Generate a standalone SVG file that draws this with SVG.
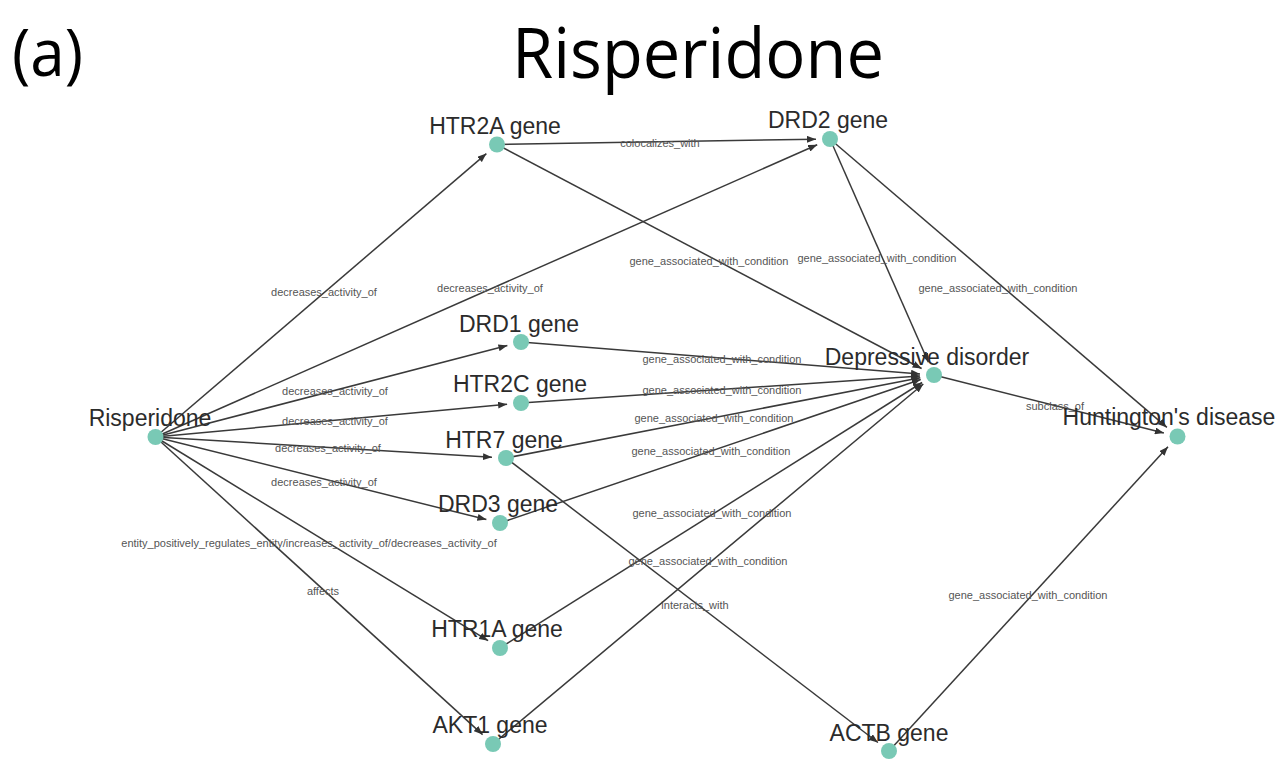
<svg xmlns="http://www.w3.org/2000/svg" width="1285" height="771" viewBox="0 0 1285 771">
<style>
.edge{stroke:#3a3a3a;stroke-width:1.5;fill:none;marker-end:url(#arr)}
.elab{font-family:"Liberation Sans",Arial,sans-serif;font-size:11px;fill:#555;text-anchor:middle}
.node circle{fill:#79c9b5}
.node text{font-family:"Liberation Sans",Arial,sans-serif;font-size:23px;fill:#2b2b2b;text-anchor:middle}
.title{font-family:"Open Sans","Noto Sans",sans-serif;fill:#000}
</style>
<defs>
<marker id="arr" markerUnits="userSpaceOnUse" markerWidth="9" markerHeight="7" refX="9" refY="3.5" orient="auto">
<path d="M0,0 L9,3.5 L0,7 z" fill="#333"/>
</marker>
</defs>
<rect width="1285" height="771" fill="#fff"/>
<text class="title" x="12" y="76" font-size="66" textLength="71" lengthAdjust="spacingAndGlyphs">(a)</text>
<text class="title" x="512" y="78" font-size="70" textLength="372" lengthAdjust="spacingAndGlyphs">Risperidone</text>
<g id="connectors">
<line class="edge" x1="155.5" y1="437" x2="486.4" y2="153.6"/>
<line class="edge" x1="155.5" y1="437" x2="817.2" y2="144.7"/>
<line class="edge" x1="155.5" y1="437" x2="507.4" y2="345.5"/>
<line class="edge" x1="155.5" y1="437" x2="507.1" y2="404.3"/>
<line class="edge" x1="155.5" y1="437" x2="492.0" y2="457.2"/>
<line class="edge" x1="155.5" y1="437" x2="486.4" y2="519.6"/>
<line class="edge" x1="155.5" y1="437" x2="488.1" y2="640.7"/>
<line class="edge" x1="155.5" y1="437" x2="482.6" y2="734.6"/>
<line class="edge" x1="497" y1="144.5" x2="816" y2="139.2"/>
<line class="edge" x1="497" y1="144.5" x2="921.6" y2="368.5"/>
<line class="edge" x1="830" y1="139" x2="928.4" y2="362.2"/>
<line class="edge" x1="830" y1="139" x2="1166.9" y2="427.4"/>
<line class="edge" x1="521" y1="342" x2="920.0" y2="373.9"/>
<line class="edge" x1="521" y1="403" x2="920.0" y2="375.9"/>
<line class="edge" x1="506" y1="458" x2="920.3" y2="377.7"/>
<line class="edge" x1="500" y1="523" x2="920.7" y2="379.5"/>
<line class="edge" x1="500" y1="648" x2="922.1" y2="382.5"/>
<line class="edge" x1="493" y1="744" x2="923.3" y2="384.0"/>
<line class="edge" x1="506" y1="458" x2="877.9" y2="742.5"/>
<line class="edge" x1="889" y1="751" x2="1168.0" y2="446.8"/>
<line class="edge" x1="934" y1="375" x2="1163.9" y2="433.1"/>
</g>
<g id="edge-labels">
<text class="elab" x="324" y="296">decreases_activity_of</text>
<text class="elab" x="490" y="292">decreases_activity_of</text>
<text class="elab" x="335" y="395">decreases_activity_of</text>
<text class="elab" x="335" y="425">decreases_activity_of</text>
<text class="elab" x="328" y="452">decreases_activity_of</text>
<text class="elab" x="324" y="486">decreases_activity_of</text>
<text class="elab" x="309" y="547">entity_positively_regulates_entity/increases_activity_of/decreases_activity_of</text>
<text class="elab" x="323" y="595">affects</text>
<text class="elab" x="660" y="147">colocalizes_with</text>
<text class="elab" x="709" y="265">gene_associated_with_condition</text>
<text class="elab" x="877" y="262">gene_associated_with_condition</text>
<text class="elab" x="998" y="292">gene_associated_with_condition</text>
<text class="elab" x="722" y="363">gene_associated_with_condition</text>
<text class="elab" x="722" y="394">gene_associated_with_condition</text>
<text class="elab" x="714" y="422">gene_associated_with_condition</text>
<text class="elab" x="711" y="455">gene_associated_with_condition</text>
<text class="elab" x="712" y="517">gene_associated_with_condition</text>
<text class="elab" x="708" y="565">gene_associated_with_condition</text>
<text class="elab" x="695" y="609">interacts_with</text>
<text class="elab" x="1028" y="599">gene_associated_with_condition</text>
<text class="elab" x="1055" y="410">subclass_of</text>
</g>
<g id="node-risperidone" class="node"><circle cx="155.5" cy="437" r="8"/><text x="150" y="426">Risperidone</text></g>
<g id="node-htr2a" class="node"><circle cx="497" cy="144.5" r="8"/><text x="495" y="134">HTR2A gene</text></g>
<g id="node-drd2" class="node"><circle cx="830" cy="139" r="8"/><text x="828" y="128">DRD2 gene</text></g>
<g id="node-drd1" class="node"><circle cx="521" cy="342" r="8"/><text x="519" y="332">DRD1 gene</text></g>
<g id="node-htr2c" class="node"><circle cx="521" cy="403" r="8"/><text x="520" y="392">HTR2C gene</text></g>
<g id="node-htr7" class="node"><circle cx="506" cy="458" r="8"/><text x="504" y="448">HTR7 gene</text></g>
<g id="node-drd3" class="node"><circle cx="500" cy="523" r="8"/><text x="498" y="512">DRD3 gene</text></g>
<g id="node-htr1a" class="node"><circle cx="500" cy="648" r="8"/><text x="497" y="637">HTR1A gene</text></g>
<g id="node-akt1" class="node"><circle cx="493" cy="744" r="8"/><text x="490" y="733">AKT1 gene</text></g>
<g id="node-depressive" class="node"><circle cx="934" cy="375" r="8"/><text x="927" y="365">Depressive disorder</text></g>
<g id="node-huntington" class="node"><circle cx="1177.5" cy="436.5" r="8"/><text x="1169" y="425">Huntington's disease</text></g>
<g id="node-actb" class="node"><circle cx="889" cy="751" r="8"/><text x="889" y="741">ACTB gene</text></g>
</svg>
